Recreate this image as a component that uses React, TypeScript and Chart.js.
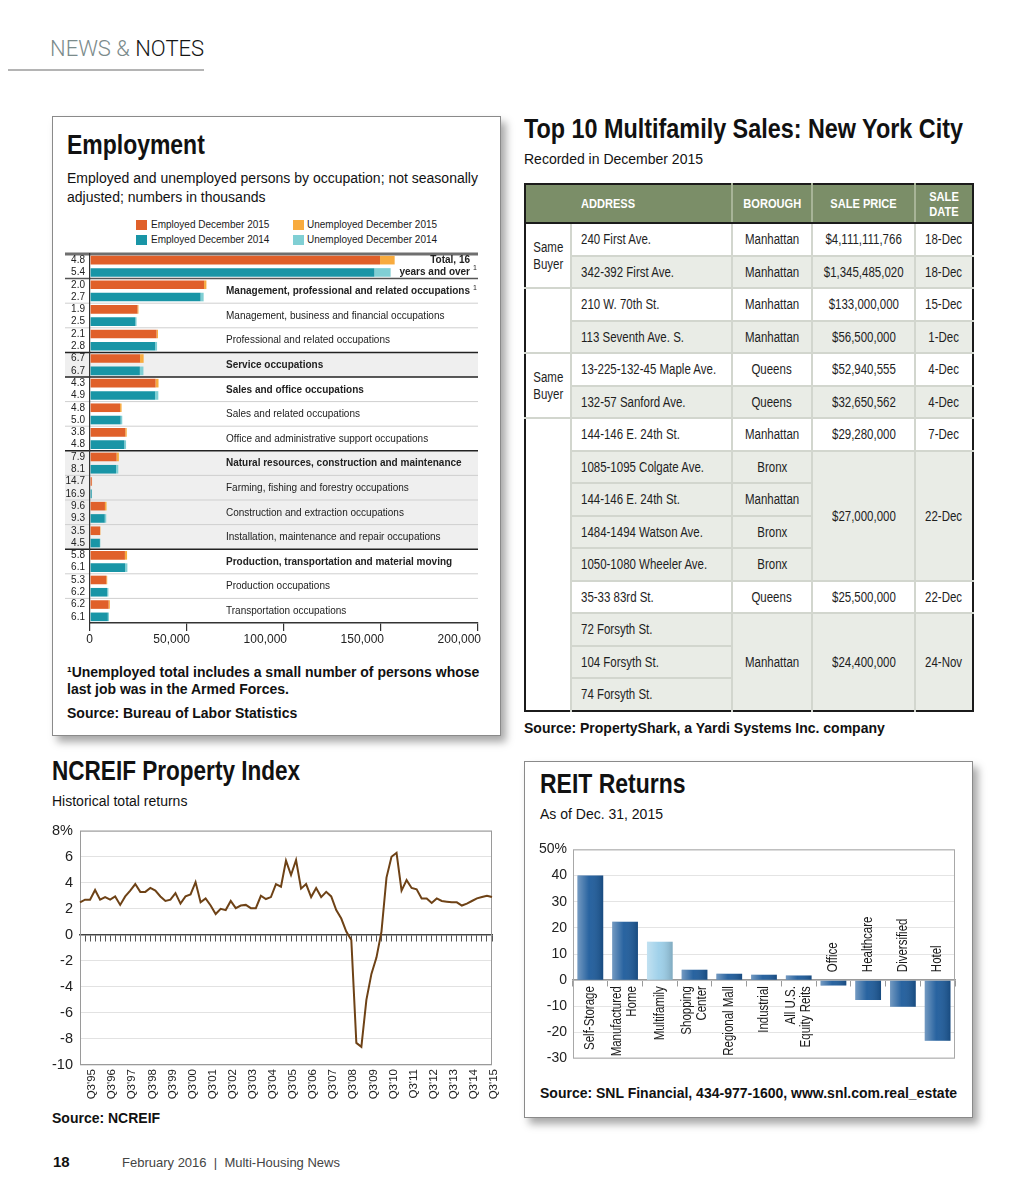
import React, { useEffect, useRef } from 'react';
import { Chart, registerables } from 'chart.js';

Chart.register(...registerables);

const SANS = "'Liberation Sans', Arial, Helvetica, sans-serif";
Chart.defaults.font.family = SANS;
Chart.defaults.color = '#222';
const NARROW = 0.82;

// ---------------- Employment data (thousands) ----------------
const EMP_CATEGORIES = [
  'Total, 16 years and over',
  'Management, professional and related occupations',
  'Management, business and financial occupations',
  'Professional and related occupations',
  'Service occupations',
  'Sales and office occupations',
  'Sales and related occupations',
  'Office and administrative support occupations',
  'Natural resources, construction and maintenance',
  'Farming, fishing and forestry occupations',
  'Construction and extraction occupations',
  'Installation, maintenance and repair occupations',
  'Production, transportation and material moving',
  'Production occupations',
  'Transportation occupations',
];
const EMP_TOTAL_LINES = ['Total, 16', 'years and over'];
const EMP_BOLD = [true, true, false, false, true, true, false, false, true, false, false, false, true, false, false];
const EMP_FOOTNOTE = [true, true, false, false, false, false, false, false, false, false, false, false, false, false, false];
const EMP_GROUP_TOP = [true, true, false, false, true, true, false, false, true, false, false, false, true, false, false];
const EMP_SHADED = [false, false, false, false, true, false, false, false, true, true, true, true, false, false, false];
const EMPLOYED_2015 = [149500, 58800, 24500, 34300, 25800, 33800, 15500, 18200, 13700, 900, 7700, 5200, 18000, 8400, 9600];
const UNEMPLOYED_2015 = [7540, 1200, 475, 735, 1850, 1520, 780, 720, 1175, 155, 820, 190, 1110, 470, 635];
const EMPLOYED_2014 = [146600, 57000, 23400, 33600, 25700, 33500, 15800, 17700, 13400, 850, 7600, 5100, 18100, 8900, 9200];
const UNEMPLOYED_2014 = [8370, 1580, 600, 970, 1845, 1725, 830, 890, 1180, 173, 780, 240, 1175, 590, 600];
const RATE_2015 = ['4.8', '2.0', '1.9', '2.1', '6.7', '4.3', '4.8', '3.8', '7.9', '14.7', '9.6', '3.5', '5.8', '5.3', '6.2'];
const RATE_2014 = ['5.4', '2.7', '2.5', '2.8', '6.7', '4.9', '5.0', '4.8', '8.1', '16.9', '9.3', '4.5', '6.1', '6.2', '6.1'];
const EMP_SERIES = ['Employed December 2015', 'Unemployed December 2015', 'Employed December 2014', 'Unemployed December 2014'];
const EMP_COLORS = ['#e0602a', '#f8ab3e', '#1995a6', '#80cfd4'];
const EMP_TICKS = [0, 50000, 100000, 150000, 200000];

// ---------------- Sales table ----------------
const SALES_HEAD = ['ADDRESS', 'BOROUGH', 'SALE PRICE', 'SALE DATE'];
const SALES_GROUP = ['Same Buyer', null, '', null, 'Same Buyer', null, '', null, null, null, null, null, null, null, null];
const SALES_ADDRESS = [
  '240 First Ave.', '342-392 First Ave.', '210 W. 70th St.', '113 Seventh Ave. S.', '13-225-132-45 Maple Ave.',
  '132-57 Sanford Ave.', '144-146 E. 24th St.', '1085-1095 Colgate Ave.', '144-146 E. 24th St.', '1484-1494 Watson Ave.',
  '1050-1080 Wheeler Ave.', '35-33 83rd St.', '72 Forsyth St.', '104 Forsyth St.', '74 Forsyth St.',
];
const SALES_BOROUGH = ['Manhattan', 'Manhattan', 'Manhattan', 'Manhattan', 'Queens', 'Queens', 'Manhattan', 'Bronx', 'Manhattan', 'Bronx', 'Bronx', 'Queens', 'Manhattan', null, null];
const SALES_PRICE = ['$4,111,111,766', '$1,345,485,020', '$133,000,000', '$56,500,000', '$52,940,555', '$32,650,562', '$29,280,000', '$27,000,000', null, null, null, '$25,500,000', '$24,400,000', null, null];
const SALES_DATE = ['18-Dec', '18-Dec', '15-Dec', '1-Dec', '4-Dec', '4-Dec', '7-Dec', '22-Dec', null, null, null, '22-Dec', '24-Nov', null, null];

// ---------------- NCREIF ----------------
const NCREIF_YEARS = ['95', '96', '97', '98', '99', '00', '01', '02', '03', '04', '05', '06', '07', '08', '09', '10', '11', '12', '13', '14', '15'];
const NCREIF_RETURNS = [
  2.5, 2.7, 2.7, 3.45, 2.7, 2.9, 2.7, 2.95, 2.3, 2.95,
  3.4, 3.9, 3.3, 3.3, 3.6, 3.4, 2.95, 2.6, 2.7, 3.2,
  2.4, 2.95, 3.1, 4.05, 2.5, 2.8, 2.25, 1.6, 2.0, 1.9,
  2.6, 2.05, 2.25, 2.3, 2.05, 2.05, 3.0, 2.75, 2.9, 3.9,
  3.7, 5.7, 4.6, 5.75, 3.55, 3.9, 2.9, 3.6, 2.9, 3.3,
  2.95, 1.9, 1.25, 0.25, -0.4, -8.3, -8.6, -5.0, -3.0, -1.75,
  0.25, 4.4, 6.0, 6.3, 3.4, 4.2, 3.6, 3.5, 2.8, 2.8,
  2.45, 2.8, 2.6, 2.55, 2.5, 2.5, 2.25, 2.4, 2.6, 2.8,
  2.9, 3.0, 2.9,
];
const QUARTERS = NCREIF_YEARS.flatMap((y) => ['Q1', 'Q2', 'Q3', 'Q4'].map((q) => `${q}'${y}`)).slice(0, NCREIF_RETURNS.length);
const NCREIF_Y_TICKS = [-10, -8, -6, -4, -2, 0, 2, 4, 6, 8];

// ---------------- REIT ----------------
const REIT_SECTORS = [
  ['Self-Storage'], ['Manufactured', 'Home'], ['Multifamily'], ['Shopping', 'Center'], ['Regional Mall'],
  ['Industrial'], ['All U.S.', 'Equity Reits'], ['Office'], ['Healthcare'], ['Diversified'], ['Hotel'],
];
const REIT_RETURNS = [40.0, 22.3, 14.7, 4.0, 2.4, 2.1, 1.8, -2.0, -7.6, -10.2, -23.2];
const REIT_HIGHLIGHT = 'Multifamily';
const REIT_Y_TICKS = [-30, -20, -10, 0, 10, 20, 30, 40, 50];

// ---------------- helpers ----------------
function ChartBox({ x, y, w, h, make }: any) {
  const ref = useRef<HTMLCanvasElement | null>(null);
  useEffect(() => {
    if (!ref.current) return;
    const chart = make(ref.current);
    return () => chart.destroy();
  }, []);
  return (
    <div style={{ position: 'absolute', left: x, top: y, width: w, height: h }}>
      <canvas ref={ref} />
    </div>
  );
}

function Text({ x, base, size, bold = false, color = '#111', narrow = false, children }: any) {
  return (
    <div
      style={{
        position: 'absolute', left: x, top: base - 0.8465 * size, fontSize: size, lineHeight: `${size}px`,
        fontWeight: bold ? 700 : 400, color, whiteSpace: 'nowrap',
        transform: narrow ? `scaleX(${NARROW})` : undefined, transformOrigin: '0 0',
      }}
    >
      {children}
    </div>
  );
}

const frame = (color: string) => ({
  id: 'frame',
  beforeDatasetsDraw(chart: any) {
    const { ctx, chartArea: a } = chart;
    ctx.save();
    ctx.strokeStyle = color;
    ctx.lineWidth = 1;
    ctx.strokeRect(a.left + 0.5, a.top + 0.5, a.width - 1, a.height - 1);
    ctx.restore();
  },
});

// ---------------- Employment chart ----------------
const empRows = {
  id: 'empRows',
  beforeDraw(chart: any) {
    const { ctx, chartArea: ca, scales } = chart;
    const y = scales.y;
    const n = EMP_CATEGORIES.length;
    const rowH = (ca.bottom - ca.top) / n;
    const x0 = 5;
    ctx.save();
    for (let i = 0; i < n; i++) {
      const top = y.getPixelForValue(i) - rowH / 2;
      if (EMP_SHADED[i]) {
        ctx.fillStyle = '#efefef';
        ctx.fillRect(x0, top, ca.right - x0, rowH);
      }
    }
    for (let i = 0; i < n; i++) {
      const top = y.getPixelForValue(i) - rowH / 2;
      ctx.beginPath();
      if (i === 0) { ctx.strokeStyle = '#6f6f6f'; ctx.lineWidth = 3; }
      else if (i === 1) { ctx.strokeStyle = '#555'; ctx.lineWidth = 1.5; }
      else if (EMP_GROUP_TOP[i]) { ctx.strokeStyle = '#222'; ctx.lineWidth = 1.5; }
      else { ctx.strokeStyle = '#cfcfcf'; ctx.lineWidth = 1; }
      ctx.moveTo(x0, top);
      ctx.lineTo(ca.right, top);
      ctx.stroke();
    }
    ctx.restore();
  },
  afterDatasetsDraw(chart: any) {
    const { ctx, chartArea: ca, scales } = chart;
    const y = scales.y;
    const m15 = chart.getDatasetMeta(0);
    const m14 = chart.getDatasetMeta(2);
    ctx.save();
    ctx.fillStyle = '#222';
    ctx.textBaseline = 'middle';
    ctx.font = `10px ${SANS}`;
    ctx.textAlign = 'right';
    EMP_CATEGORIES.forEach((_, i) => {
      ctx.fillText(RATE_2015[i], ca.left - 5, m15.data[i].y);
      ctx.fillText(RATE_2014[i], ca.left - 5, m14.data[i].y);
    });
    EMP_CATEGORIES.forEach((label, i) => {
      const yc = y.getPixelForValue(i);
      ctx.font = `${EMP_BOLD[i] ? 'bold ' : ''}10px ${SANS}`;
      if (i === 0) {
        ctx.textAlign = 'right';
        const xr = ca.right - 8;
        ctx.fillText(EMP_TOTAL_LINES[0], xr, yc - 6);
        ctx.fillText(EMP_TOTAL_LINES[1], xr, yc + 5.5);
        if (EMP_FOOTNOTE[i]) {
          ctx.font = `7px ${SANS}`;
          ctx.textAlign = 'left';
          ctx.fillText('1', xr + 3, yc + 2);
        }
        return;
      }
      ctx.textAlign = 'left';
      const xl = ca.left + 136;
      ctx.fillText(label, xl, yc + 0.5);
      if (EMP_FOOTNOTE[i]) {
        const w = ctx.measureText(label).width;
        ctx.font = `7px ${SANS}`;
        ctx.fillText('1', xl + w + 3, yc - 3);
      }
    });
    ctx.restore();
  },
};

function makeEmployment(el: HTMLCanvasElement) {
  const values = [EMPLOYED_2015, UNEMPLOYED_2015, EMPLOYED_2014, UNEMPLOYED_2014];
  return new Chart(el, {
    type: 'bar',
    data: {
      labels: EMP_CATEGORIES,
      datasets: EMP_SERIES.map((s, k) => ({
        label: s,
        data: values[k],
        backgroundColor: EMP_COLORS[k],
        stack: k < 2 ? 's2015' : 's2014',
        categoryPercentage: 1,
        barPercentage: 0.7,
        borderWidth: 0,
      })),
    },
    options: {
      indexAxis: 'y',
      animation: false,
      responsive: true,
      maintainAspectRatio: false,
      layout: { padding: { left: 0, right: 12, top: 4, bottom: 0 } },
      plugins: { legend: { display: false }, tooltip: { enabled: false } },
      scales: {
        x: {
          type: 'linear', stacked: true, min: 0, max: 200000,
          afterBuildTicks: (s: any) => { s.ticks = EMP_TICKS.map((v) => ({ value: v })); },
          grid: { drawOnChartArea: false, drawTicks: true, tickLength: 8, color: '#333', lineWidth: 1.2 },
          border: { color: '#333', width: 1.5 },
          ticks: { align: 'end', labelOffset: 3, padding: 1, font: { size: 12 }, color: '#222', callback: (v: any) => Number(v).toLocaleString('en-US') },
          afterFit: (s: any) => { s.height = 27; },
        },
        y: {
          type: 'category', stacked: true,
          grid: { display: false },
          border: { display: true, color: '#333', width: 1.2 },
          ticks: { display: false },
          afterFit: (s: any) => { s.width = 30; },
        },
      },
    } as any,
    plugins: [empRows],
  });
}

// ---------------- NCREIF chart ----------------
function makeNcreif(el: HTMLCanvasElement) {
  return new Chart(el, {
    type: 'line',
    data: {
      labels: QUARTERS,
      datasets: [{ data: NCREIF_RETURNS, borderColor: '#6e4216', borderWidth: 2, pointRadius: 0, tension: 0, fill: false }],
    },
    options: {
      animation: false,
      responsive: true,
      maintainAspectRatio: false,
      layout: { padding: { left: 0, right: 8, top: 11, bottom: 0 } },
      plugins: { legend: { display: false }, tooltip: { enabled: false } },
      scales: {
        x: {
          type: 'category', position: 'bottom',
          grid: { display: false, drawTicks: false },
          border: { display: false },
          ticks: {
            autoSkip: false, maxRotation: 90, minRotation: 90, padding: 4, labelOffset: 2, font: { size: 11.5 }, color: '#222',
            callback: (_v: any, i: number) => (QUARTERS[i].startsWith('Q3') ? QUARTERS[i] : ''),
          },
          afterFit: (s: any) => { s.height = 40; s.paddingLeft = 0; s.paddingRight = 0; },
        },
        x0: {
          type: 'category', position: { y: 0 },
          grid: { drawOnChartArea: false, drawTicks: true, tickLength: 6, color: '#555' },
          border: { color: '#444', width: 1.5 },
          ticks: { display: false },
        },
        y: {
          type: 'linear', min: -10, max: 8,
          afterBuildTicks: (s: any) => { s.ticks = NCREIF_Y_TICKS.map((v) => ({ value: v })); },
          grid: { color: '#e2e2e2', drawTicks: false },
          border: { display: false },
          ticks: { padding: 7, font: { size: 14.5 }, color: '#222', callback: (v: any) => (v === 8 ? '8%' : String(v)) },
          afterFit: (s: any) => { s.width = 40; },
        },
      },
    } as any,
    plugins: [frame('#9a9a9a')],
  });
}

// ---------------- REIT chart ----------------
const reitDecor = {
  id: 'reitDecor',
  afterDatasetsDraw(chart: any) {
    const { ctx } = chart;
    const meta = chart.getDatasetMeta(0);
    const zeroY = chart.scales.y.getPixelForValue(0);
    ctx.save();
    meta.data.forEach((el: any) => {
      const { x, y, base, width } = el.getProps(['x', 'y', 'base', 'width'], true);
      const left = x - width / 2;
      const top = Math.min(y, base);
      const h = Math.abs(base - y);
      const g = ctx.createLinearGradient(left, 0, left + width, 0);
      g.addColorStop(0, 'rgba(255,255,255,0.38)');
      g.addColorStop(0.45, 'rgba(255,255,255,0.05)');
      g.addColorStop(1, 'rgba(0,0,0,0.18)');
      ctx.fillStyle = g;
      ctx.fillRect(left, top, width, h);
    });
    meta.data.forEach((el: any, i: number) => {
      const lines = REIT_SECTORS[i];
      const pos = REIT_RETURNS[i] >= 0;
      ctx.save();
      ctx.translate(el.x, pos ? zeroY + 6 : zeroY - 8);
      ctx.rotate(-Math.PI / 2);
      ctx.scale(NARROW, 1);
      ctx.font = `14px ${SANS}`;
      ctx.fillStyle = '#1a1a1a';
      ctx.textBaseline = 'middle';
      ctx.textAlign = pos ? 'right' : 'left';
      lines.forEach((ln, k) => ctx.fillText(ln, 0, (k - (lines.length - 1) / 2) * 15));
      ctx.restore();
    });
    ctx.restore();
  },
};

function makeReit(el: HTMLCanvasElement) {
  return new Chart(el, {
    type: 'bar',
    data: {
      labels: REIT_SECTORS,
      datasets: [{
        data: REIT_RETURNS,
        backgroundColor: REIT_SECTORS.map((s) => (s.join(' ') === REIT_HIGHLIGHT ? '#9ccfe9' : '#1d5b9b')),
        categoryPercentage: 1,
        barPercentage: 0.74,
        borderWidth: 0,
      }],
    },
    options: {
      animation: false,
      responsive: true,
      maintainAspectRatio: false,
      layout: { padding: { left: 0, right: 10, top: 8, bottom: 8 } },
      plugins: { legend: { display: false }, tooltip: { enabled: false } },
      scales: {
        x: {
          type: 'category', position: { y: 0 }, offset: true,
          grid: { drawOnChartArea: false, drawTicks: true, tickLength: 6, color: '#9a9a9a', offset: true },
          border: { color: '#9a9a9a', width: 1.5 },
          ticks: { display: false },
        },
        y: {
          type: 'linear', min: -30, max: 50,
          afterBuildTicks: (s: any) => { s.ticks = REIT_Y_TICKS.map((v) => ({ value: v })); },
          grid: { color: '#e4e4e4', drawTicks: false },
          border: { display: false },
          ticks: { padding: 6, font: { size: 14 }, color: '#222', callback: (v: any) => (v === 50 ? '50%' : String(v)) },
          afterFit: (s: any) => { s.width = 48; },
        },
      },
    } as any,
    plugins: [frame('#a8a8a8'), reitDecor],
  });
}

// ---------------- Table ----------------
function N({ children, origin = '50% 50%' }: any) {
  return (
    <span style={{ display: 'inline-block', transform: `scaleX(${NARROW})`, transformOrigin: origin, whiteSpace: 'nowrap' }}>
      {children}
    </span>
  );
}

function SalesTable() {
  const priceGroup: number[] = [];
  let g = -1;
  SALES_PRICE.forEach((p, i) => { if (p !== null) g++; priceGroup[i] = g; });
  const span = (col: (string | null)[], i: number) => {
    let n = 1;
    while (i + n < col.length && col[i + n] === null) n++;
    return n;
  };
  const line = '2px solid #d2d6ce';
  const headLine = '2px solid #a7b497';
  const th = (first: boolean): React.CSSProperties => ({
    padding: 0, textAlign: 'center', borderBottom: '2px solid #1b1b1b', borderLeft: first ? undefined : headLine, verticalAlign: 'middle',
  });
  return (
    <table
      style={{
        position: 'absolute', left: 524, top: 183, width: 448, borderCollapse: 'collapse', tableLayout: 'fixed',
        border: '2px solid #1b1b1b', fontSize: 14, color: '#1e1e1e', fontFamily: SANS,
      }}
    >
      <colgroup>
        <col style={{ width: 46 }} />
        <col style={{ width: 161 }} />
        <col style={{ width: 80 }} />
        <col style={{ width: 103 }} />
        <col style={{ width: 58 }} />
      </colgroup>
      <thead>
        <tr style={{ height: 39, background: '#7b8e68', color: '#fff', fontWeight: 700, fontSize: 13.5 }}>
          <th colSpan={2} style={{ ...th(true), textAlign: 'left', paddingLeft: 55 }}><N origin="0 50%">{SALES_HEAD[0]}</N></th>
          <th style={th(false)}><N>{SALES_HEAD[1]}</N></th>
          <th style={th(false)}><N>{SALES_HEAD[2]}</N></th>
          <th style={{ ...th(false), lineHeight: '15px' }}>
            <N>{SALES_HEAD[3].split(' ')[0]}</N><br /><N>{SALES_HEAD[3].split(' ')[1]}</N>
          </th>
        </tr>
      </thead>
      <tbody>
        {SALES_ADDRESS.map((addr, i) => {
          const bg = priceGroup[i] % 2 === 1 ? '#e9ece6' : '#ffffff';
          const top = i > 0 ? line : undefined;
          const cell = (extra: React.CSSProperties = {}): React.CSSProperties => ({
            padding: 0, borderTop: top, borderLeft: line, background: bg, textAlign: 'center', verticalAlign: 'middle', ...extra,
          });
          const grp = SALES_GROUP[i];
          return (
            <tr key={i} style={{ height: 32.5 }}>
              {grp !== null && (
                <td rowSpan={span(SALES_GROUP, i)} style={{ padding: 0, borderTop: top, background: '#fff', textAlign: 'center', lineHeight: '17px', verticalAlign: 'middle' }}>
                  {grp ? grp.split(' ').map((w, k) => (<React.Fragment key={k}>{k > 0 && <br />}<N>{w}</N></React.Fragment>)) : null}
                </td>
              )}
              <td style={cell({ textAlign: 'left', paddingLeft: 9 })}><N origin="0 50%">{addr}</N></td>
              {SALES_BOROUGH[i] !== null && <td rowSpan={span(SALES_BOROUGH, i)} style={cell()}><N>{SALES_BOROUGH[i]}</N></td>}
              {SALES_PRICE[i] !== null && <td rowSpan={span(SALES_PRICE, i)} style={cell()}><N>{SALES_PRICE[i]}</N></td>}
              {SALES_DATE[i] !== null && <td rowSpan={span(SALES_DATE, i)} style={cell()}><N>{SALES_DATE[i]}</N></td>}
            </tr>
          );
        })}
      </tbody>
    </table>
  );
}

// ---------------- Page ----------------
export default function App() {
  return (
    <div style={{ position: 'relative', width: 1024, height: 1195, margin: -8, background: '#fff', fontFamily: SANS, overflow: 'hidden', color: '#111' }}>
      {/* header */}
      <div style={{ position: 'absolute', left: 50, top: 56.7 - 0.8465 * 22, fontSize: 22, lineHeight: '22px', fontFamily: "Roboto, 'Liberation Sans', sans-serif", fontWeight: 300, whiteSpace: 'nowrap' }}>
        <span style={{ color: '#7b8b8b' }}>NEWS &amp; </span><span style={{ color: '#151515' }}>NOTES</span>
      </div>
      <div style={{ position: 'absolute', left: 0, top: 69, width: 204, height: 2, background: '#b4b4b4' }} />

      {/* Employment panel */}
      <div style={{ position: 'absolute', left: 52, top: 116, width: 447, height: 618, border: '1px solid #8a8a8a', background: '#fff', boxShadow: '5px 6px 8px rgba(0,0,0,0.35)' }} />
      <Text x={67} base={155} size={28} bold narrow>Employment</Text>
      <Text x={67} base={182.7} size={14}>Employed and unemployed persons by occupation; not seasonally</Text>
      <Text x={67} base={201.7} size={14}>adjusted; numbers in thousands</Text>
      {EMP_SERIES.map((s, k) => {
        const col = k % 2;
        const row = Math.floor(k / 2);
        return (
          <React.Fragment key={s}>
            <div style={{ position: 'absolute', left: 136 + col * 156.7, top: 220 + row * 14.5, width: 11, height: 10, background: EMP_COLORS[k] }} />
            <Text x={151 + col * 156} base={228.8 + row * 14.4} size={10} color="#1a1a1a">{s}</Text>
          </React.Fragment>
        );
      })}
      <ChartBox x={60} y={250} w={430} h={400} make={makeEmployment} />
      <Text x={67} base={676.7} size={14} bold>¹Unemployed total includes a small number of persons whose</Text>
      <Text x={67} base={693.5} size={14} bold>last job was in the Armed Forces.</Text>
      <Text x={67} base={718.3} size={14} bold>Source: Bureau of Labor Statistics</Text>

      {/* Sales table */}
      <Text x={524} base={138.3} size={28.5} bold narrow>Top 10 Multifamily Sales: New York City</Text>
      <Text x={524} base={164} size={14}>Recorded in December 2015</Text>
      <SalesTable />
      <Text x={524} base={733} size={14} bold>Source: PropertyShark, a Yardi Systems Inc. company</Text>

      {/* NCREIF */}
      <Text x={52} base={780.7} size={27.5} bold narrow>NCREIF Property Index</Text>
      <Text x={52} base={806} size={14}>Historical total returns</Text>
      <ChartBox x={40} y={815} w={460} h={290} make={makeNcreif} />
      <Text x={52} base={1123.3} size={14} bold>Source: NCREIF</Text>

      {/* REIT panel */}
      <div style={{ position: 'absolute', left: 524, top: 761, width: 447, height: 355, border: '1px solid #8a8a8a', background: '#fff', boxShadow: '5px 6px 8px rgba(0,0,0,0.35)' }} />
      <Text x={540} base={793.3} size={28} bold narrow>REIT Returns</Text>
      <Text x={540} base={819.3} size={14}>As of Dec. 31, 2015</Text>
      <ChartBox x={525} y={835} w={440} h={238} make={makeReit} />
      <Text x={540} base={1098.3} size={14} bold>Source: SNL Financial, 434-977-1600, www.snl.com.real_estate</Text>

      {/* footer */}
      <Text x={53} base={1166.7} size={15} bold>18</Text>
      <Text x={122} base={1166.7} size={13} color="#444">February 2016&nbsp;&nbsp;|&nbsp;&nbsp;Multi-Housing News</Text>
    </div>
  );
}
